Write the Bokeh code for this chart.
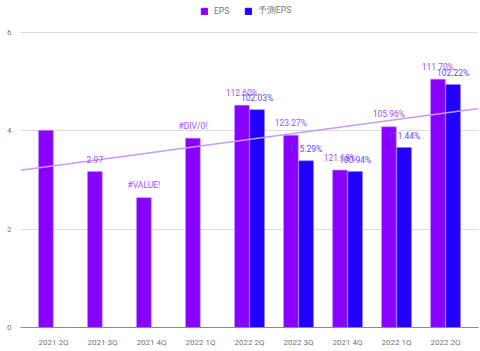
import numpy as np
from bokeh.plotting import figure
from bokeh.layouts import column
from bokeh.models import ColumnDataSource, Range1d, FixedTicker, Legend, LegendItem
from bokeh.core.properties import value
from bokeh.embed import file_html
from bokeh.resources import INLINE

quarters = ["2021 2Q", "2021 3Q", "2021 4Q", "2022 1Q", "2022 2Q",
            "2022 3Q", "2021 4Q", "2022 1Q", "2022 2Q"]
eps = [4.01, 3.17, 2.64, 3.85, 4.52, 3.91, 3.20, 4.08, 5.05]
forecast = [np.nan, np.nan, np.nan, np.nan, 4.43, 3.39, 3.17, 3.66, 4.94]
eps_labels = ["", "2.97", "#VALUE!", "#DIV/0!", "112.60%", "123.27%",
              "121.18%", "105.96%", "111.70%"]
forecast_labels = ["", "", "", "", "102.03%", "115.29%", "100.94%",
                   "111.44%", "102.22%"]
series_names = ["EPS", "予測EPS"]
y_ticks = [0, 2, 4, 6]

EPS_COLOR = "#8800ff"
FC_COLOR = "#2200ff"
FONT = "Roboto"

x = np.arange(len(quarters))
off = 0.155
src = ColumnDataSource(dict(
    xe=x - off, xf=x + off, eps=eps, fc=forecast,
    el=eps_labels, fl=forecast_labels,
))

p = figure(width=480, height=331, output_backend="svg", toolbar_location=None,
           x_range=Range1d(-0.673, 8.673), y_range=Range1d(0, 6.1),
           min_border_left=20, min_border_right=2, min_border_top=7,
           min_border_bottom=24)
p.outline_line_color = None
p.background_fill_color = "white"
p.border_fill_color = "white"

# axes
p.xaxis.ticker = FixedTicker(ticks=list(x))
p.xaxis.major_label_overrides = {int(i): q for i, q in zip(x, quarters)}
p.xaxis.major_tick_line_color = None
p.xaxis.minor_tick_line_color = None
p.xaxis.axis_line_color = "#8a8a8a"
p.xaxis.axis_line_width = 1
p.xaxis.major_label_text_font = FONT
p.xaxis.major_label_text_font_size = "8px"
p.xaxis.major_label_text_color = "#757575"
p.xaxis.major_label_standoff = 4

p.yaxis.ticker = FixedTicker(ticks=y_ticks)
p.yaxis.major_tick_line_color = None
p.yaxis.minor_tick_line_color = None
p.yaxis.axis_line_color = None
p.yaxis.major_label_text_font = FONT
p.yaxis.major_label_text_font_size = "8px"
p.yaxis.major_label_text_color = "#757575"
p.yaxis.major_label_standoff = 3

p.xgrid.grid_line_color = None
p.ygrid.grid_line_color = "#dcdcdc"
p.ygrid.grid_line_width = 1

# bars
p.vbar(x="xe", top="eps", width=0.3, source=src,
       fill_color=EPS_COLOR, line_color="#b98aff", line_width=0.6)
p.vbar(x="xf", top="fc", width=0.3, source=src,
       fill_color=FC_COLOR, line_color="#8a7aff", line_width=0.6)

# trendline (linear fit of EPS)
coef = np.polyfit(x, eps, 1)
tx = np.array([p.x_range.start, p.x_range.end])
p.line(tx, np.polyval(coef, tx), line_color="#c59cff", line_width=1.5)

# annotations
p.text(x="xe", y="eps", text="el", source=src, text_font=value(FONT),
       text_font_size="8.5px", text_color="#a050ff", text_align="center",
       text_baseline="middle", y_offset=-12.5)
p.text(x="xf", y="fc", text="fl", source=src, text_font=value(FONT),
       text_font_size="8.5px", text_color="#5a48ff", text_align="center",
       text_baseline="middle", y_offset=-12)

# legend strip on top
lg = figure(width=480, height=20, output_backend="svg", toolbar_location=None,
            x_range=Range1d(0, 1), y_range=Range1d(0, 1),
            min_border=0)
lg.axis.visible = False
lg.grid.visible = False
lg.outline_line_color = None
r1 = lg.vbar(x=[np.nan], top=[np.nan], width=0.1, fill_color=EPS_COLOR, line_color=EPS_COLOR)
r2 = lg.vbar(x=[np.nan], top=[np.nan], width=0.1, fill_color=FC_COLOR, line_color=FC_COLOR)
legend = Legend(items=[LegendItem(label=series_names[0], renderers=[r1]),
                       LegendItem(label=series_names[1], renderers=[r2])],
                orientation="horizontal", location=(180, 3),
                label_text_font=FONT, label_text_font_size="8.5px",
                label_text_color="#757575", glyph_width=8, glyph_height=8,
                border_line_color=None, background_fill_alpha=0,
                spacing=10, padding=0, margin=0, label_standoff=6,
                label_height=8)
lg.add_layout(legend, "center")

open("out.html", "w").write(file_html(column(lg, p, spacing=0), INLINE))
